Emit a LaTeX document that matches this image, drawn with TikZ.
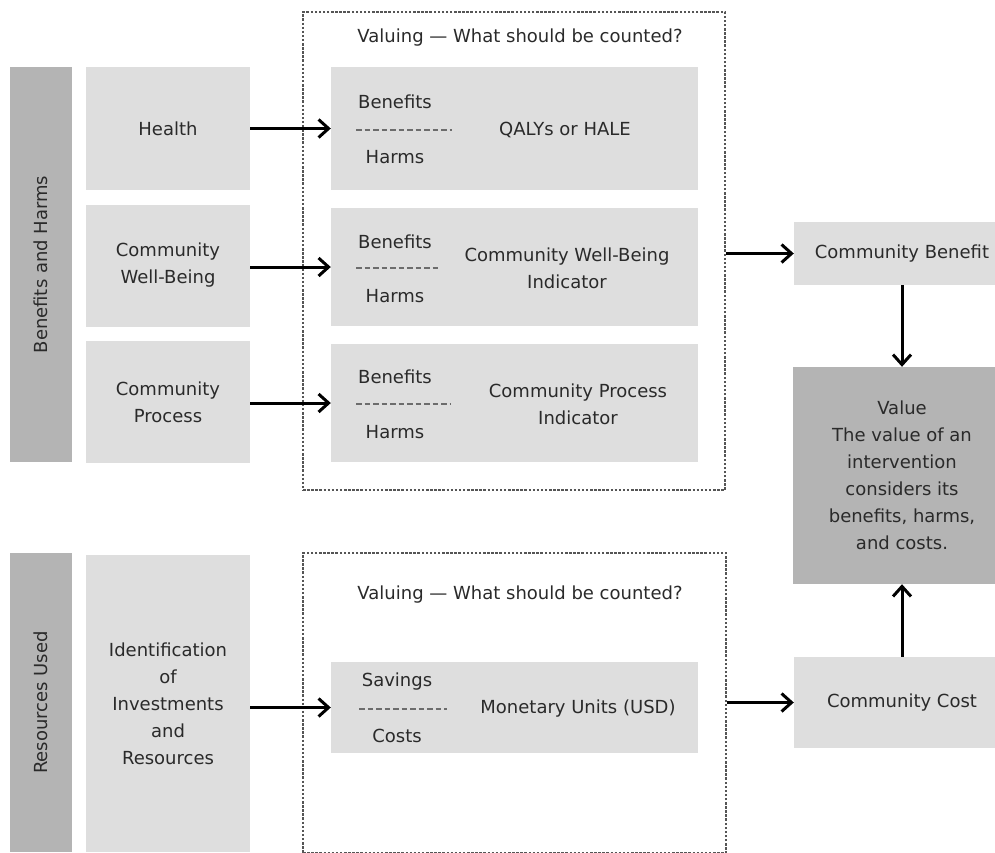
\documentclass[tikz,border=0pt]{standalone}
\usepackage{fontspec}
\setmainfont{DejaVu Sans}
\usetikzlibrary{arrows.meta}
\definecolor{lightbox}{HTML}{DEDEDE}
\definecolor{darkbox}{HTML}{B4B4B4}
\definecolor{txt}{HTML}{2A2A2A}
\definecolor{dotc}{HTML}{555555}
\begin{document}
\begin{tikzpicture}[x=1pt,y=-1pt,
  font=\fontsize{18}{27}\selectfont,
  every node/.style={text=txt},
  lbox/.style={fill=lightbox, draw=none, inner sep=0pt, align=center},
  dbox/.style={fill=darkbox, draw=none, inner sep=0pt, align=center},
  frame/.style={draw=dotc, line width=1.1pt, dash pattern=on 2.5pt off 1.6pt, inner sep=0pt},
  sep/.style={draw=gray!85!black, line width=1.4pt, dash pattern=on 5.5pt off 3pt},
  lbl/.style={inner sep=0pt, align=center},
  arr/.style={draw=black, line width=3pt, -{Straight Barb[length=10pt,width=18pt,line width=3pt]}}
]
\useasboundingbox (0,0) rectangle (995,852);

% left bars
\node[dbox, minimum width=62, minimum height=395] (bh) at (41,264.5) {};
\node[lbl, rotate=90] (bhlbl) at (bh.center) {Benefits and Harms};
\node[dbox, minimum width=62, minimum height=299] (ru) at (41,702.5) {};
\node[lbl, rotate=90] (rulbl) at (ru.center) {Resources Used};

% left boxes
\node[lbox, minimum width=164, minimum height=123] (health) at (168,128.5) {Health};
\node[lbox, minimum width=164, minimum height=122] (cwb) at (168,265.5) {Community\\Well-Being};
\node[lbox, minimum width=164, minimum height=122] (cp) at (168,402) {Community\\Process};
\node[lbox, minimum width=164, minimum height=297] (ident) at (168,703.5) {Identification\\of\\Investments\\and\\Resources};

% dotted frames
\node[frame, minimum width=422, minimum height=478] (f1) at (514,251) {};
\node[lbl] (t1) at (520,38) {Valuing — What should be counted?};
\node[frame, minimum width=423, minimum height=300] (f2) at (514.5,703) {};
\node[lbl] (t2) at (520,595) {Valuing — What should be counted?};

% inner boxes
\node[lbox, minimum width=367, minimum height=123] (ib1) at (514.5,128.5) {};
\node[lbox, minimum width=367, minimum height=118] (ib2) at (514.5,267) {};
\node[lbox, minimum width=367, minimum height=118] (ib3) at (514.5,403) {};
\node[lbox, minimum width=367, minimum height=91] (ib4) at (514.5,707.5) {};

% inner contents
\node[lbl] (b1) at (395,102) {Benefits};
\node[lbl] (h1) at (395,157) {Harms};
\coordinate (s1a) at (356,130); \coordinate (s1b) at (452,130);
\draw[sep] (s1a) -- (s1b);
\node[lbl] (q1) at (565,130) {QALYs or HALE};

\node[lbl] (b2) at (395,242) {Benefits};
\node[lbl] (h2) at (395,296) {Harms};
\coordinate (s2a) at (356,268); \coordinate (s2b) at (440,268);
\draw[sep] (s2a) -- (s2b);
\node[lbl] (q2) at (567,268) {Community Well-Being\\Indicator};

\node[lbl] (b3) at (395,377) {Benefits};
\node[lbl] (h3) at (395,432) {Harms};
\coordinate (s3a) at (356,404); \coordinate (s3b) at (451,404);
\draw[sep] (s3a) -- (s3b);
\node[lbl] (q3) at (578,404) {Community Process\\Indicator};

\node[lbl] (sv) at (397,682) {Savings};
\node[lbl] (co) at (397,736) {Costs};
\coordinate (s4a) at (359,709); \coordinate (s4b) at (447,709);
\draw[sep] (s4a) -- (s4b);
\node[lbl] (q4) at (578,709) {Monetary Units (USD)};

% right boxes
\node[lbox, minimum width=216, minimum height=63] (cb) at (902,253.5) {Community Benefit};
\node[dbox, minimum width=218, minimum height=217] (val) at (902,475.5) {Value\\ The value of an\\intervention\\considers its\\benefits, harms,\\and costs.};
\node[lbox, minimum width=216, minimum height=91] (cc) at (902,702.5) {Community Cost};

% arrows
\draw[arr] (health.east) -- (health.east -| ib1.west);
\draw[arr] (cwb.east |- ib2.west) -- (ib2.west);
\draw[arr] (cp.east |- ib3.west) -- (ib3.west);
\draw[arr] (ident.east |- ib4.west) -- (ib4.west);
\draw[arr] (f1.east |- cb.west) -- (cb.west);
\draw[arr] (f2.east |- cc.west) -- (cc.west);
\draw[arr] (cb.south) -- (val.north);
\draw[arr] (cc.north) -- (val.south);
\end{tikzpicture}
\end{document}
